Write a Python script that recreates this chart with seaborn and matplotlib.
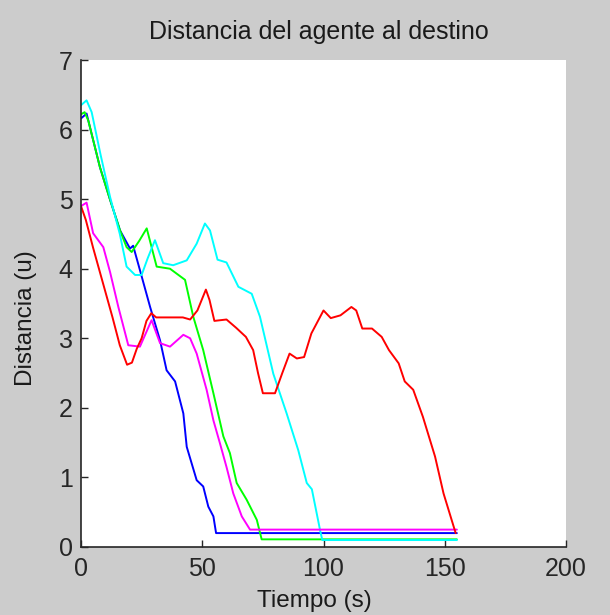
import matplotlib
matplotlib.use("Agg")
import matplotlib.pyplot as plt
import seaborn as sns
import pandas as pd

# valores (tiempo en s, distancia en u)
rojo_t = [0, 2, 5, 9, 13, 16, 19, 21, 23, 25, 27, 29, 31, 42, 45, 48, 51.5, 53, 55,
          60, 64, 68, 71, 73, 75, 80, 83, 86, 89, 92, 95, 100, 103, 107, 111.5, 113.5,
          116, 120, 124, 127, 131, 133.5, 137, 141, 146, 149.5, 154.5]
rojo_d = [4.9, 4.7, 4.3, 3.8, 3.3, 2.9, 2.62, 2.65, 2.85, 3.0, 3.25, 3.36, 3.3, 3.3,
          3.27, 3.4, 3.7, 3.55, 3.25, 3.27, 3.15, 3.02, 2.83, 2.5, 2.21, 2.21, 2.5,
          2.78, 2.71, 2.73, 3.07, 3.4, 3.29, 3.33, 3.45, 3.4, 3.14, 3.14, 3.02, 2.83,
          2.64, 2.38, 2.26, 1.87, 1.3, 0.77, 0.2]

cian_t = [0, 2.3, 4.4, 8, 12, 16, 18.8, 22.3, 25, 27.5, 30.5, 33.9, 38, 43.6, 47.7,
          51.1, 53.2, 56.3, 60, 64.9, 70.4, 73.8, 79.3, 84.8, 89.6, 93.1, 95.2, 98.6,
          99.5, 155]
cian_d = [6.35, 6.42, 6.25, 5.65, 5.03, 4.5, 4.03, 3.91, 3.91, 4.15, 4.41, 4.08, 4.05,
          4.12, 4.36, 4.65, 4.55, 4.13, 4.09, 3.74, 3.64, 3.31, 2.49, 1.92, 1.39, 0.92,
          0.83, 0.24, 0.1, 0.1]

verde_t = [0, 1.5, 3, 7.8, 12, 16.1, 18.8, 20.9, 24, 27.1, 31.2, 36.7, 42.9, 46.3,
           50.4, 54.6, 58.7, 61.4, 64.2, 68.3, 72.5, 74.5, 155]
verde_d = [6.22, 6.25, 6.13, 5.46, 4.99, 4.55, 4.31, 4.24, 4.4, 4.58, 4.03, 4.0, 3.84,
           3.31, 2.83, 2.21, 1.59, 1.35, 0.92, 0.68, 0.39, 0.11, 0.11]

azul_t = [0, 2.3, 7.8, 12, 16.1, 20.2, 21.5, 24.3, 28.5, 32.6, 35.3, 38.8, 42.2, 43.6,
          47.7, 50.4, 52.5, 54.6, 55.7, 155]
azul_d = [6.16, 6.23, 5.46, 4.99, 4.55, 4.29, 4.33, 3.98, 3.45, 2.97, 2.54, 2.38, 1.92,
          1.44, 0.96, 0.87, 0.58, 0.44, 0.2, 0.2]

magenta_t = [0, 2.3, 5, 9.2, 12, 15.4, 19.5, 24.3, 29.1, 32.6, 36.7, 42.2, 45, 47.7,
             51.8, 54.6, 57.3, 60, 62.8, 66.3, 69.7, 155]
magenta_d = [4.9, 4.95, 4.51, 4.31, 3.95, 3.45, 2.9, 2.88, 3.26, 2.93, 2.88, 3.05, 3.0,
             2.78, 2.26, 1.82, 1.49, 1.15, 0.77, 0.44, 0.25, 0.25]

series = {
    "azul": (azul_t, azul_d, "#0000ff"),
    "verde": (verde_t, verde_d, "#00ff00"),
    "cian": (cian_t, cian_d, "#00ffff"),
    "magenta": (magenta_t, magenta_d, "#ff00ff"),
    "rojo": (rojo_t, rojo_d, "#ff0000"),
}

frames = []
for nombre, (t, d, _) in series.items():
    frames.append(pd.DataFrame({"t": t, "d": d, "agente": nombre}))
df = pd.concat(frames, ignore_index=True)
paleta = {k: v[2] for k, v in series.items()}

sns.set_style("white")
plt.rcParams['font.family'] = ['Liberation Sans', 'DejaVu Sans']

fig = plt.figure(figsize=(6.10, 6.15), dpi=100, facecolor="#cccccc")
ax = fig.add_axes([81 / 610, 1 - 547 / 615, 485 / 610, 487 / 615])
ax.set_facecolor("white")

sns.lineplot(data=df, x="t", y="d", hue="agente", palette=paleta, sort=False,
             estimator=None, linewidth=1.4, legend=False, ax=ax)

ax.set_xlim(0, 200)
ax.set_ylim(0, 7)
ax.set_xticks([0, 50, 100, 150, 200])
ax.set_yticks(range(0, 8))
ax.tick_params(direction="in", length=5, width=1, colors="#262626", labelsize=18,
               bottom=True, left=True)
ax.tick_params(axis="y", pad=6)
ax.tick_params(axis="x", pad=7)
for s in ["top", "right"]:
    ax.spines[s].set_visible(False)
for s in ["left", "bottom"]:
    ax.spines[s].set_color("#262626")
    ax.spines[s].set_linewidth(1.2)

ax.set_title("Distancia del agente al destino", fontsize=18, color="#1a1a1a",
             x=0.49, y=1.043, pad=0, va="baseline")
ax.set_xlabel("Tiempo (s)", fontsize=17.5, color="#1a1a1a")
ax.set_ylabel("Distancia (u)", fontsize=17.5, color="#1a1a1a")
ax.xaxis.set_label_coords(0.482, -0.088)
ax.yaxis.set_label_coords(-0.09, 0.47)

fig.savefig("out.png", dpi=100, facecolor=fig.get_facecolor())
